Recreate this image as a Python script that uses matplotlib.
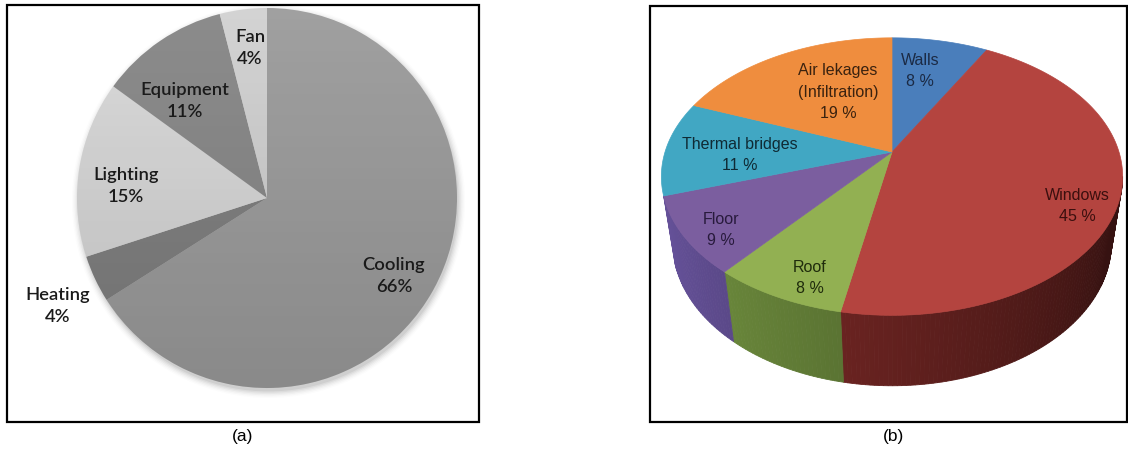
import numpy as np
import matplotlib
matplotlib.use("Agg")
import matplotlib.pyplot as plt
from matplotlib.patches import Polygon, Rectangle, Circle
from matplotlib.colors import to_rgb

# ---- (a) building energy end uses ----
uses = ["Cooling", "Heating", "Lighting", "Equipment", "Fan"]
use_share = [66, 4, 15, 11, 4]

# ---- (b) heat loss through the building envelope ----
parts = ["Walls", "Windows", "Roof", "Floor", "Thermal bridges", "Air lekages\n(Infiltration)"]
part_share = [8, 45, 8, 9, 11, 19]

W, H = 1128, 454
fig = plt.figure(figsize=(W / 100, H / 100), dpi=100)
fig.patch.set_facecolor("white")

# ---------------- panel (a): flat pie ----------------
pa_cx, pa_cy, pa_r = 267, 198, 190
pad = 1.08
ax_a = fig.add_axes([(pa_cx - pa_r * pad) / W, (H - pa_cy - pa_r * pad) / H,
                     2 * pa_r * pad / W, 2 * pa_r * pad / H])

grey = ["#a0a0a0", "#838383", "#dadada", "#8c8c8c", "#d3d3d3"]
wedges, _ = ax_a.pie(use_share, colors=grey, startangle=90, counterclock=False,
                     radius=1.0, wedgeprops=dict(linewidth=0), normalize=True)
for w in wedges:
    w.set_zorder(1)
# soft drop shadow under the disc
for i, a in enumerate(np.linspace(0.05, 0.01, 6)):
    ax_a.add_patch(Circle((0.008, -0.018), 1.0 + 0.007 * i, color="black", alpha=a, lw=0, zorder=0))
# gentle top-to-bottom shading over the disc
yy = np.linspace(1, 0, 200)[:, None] * np.ones((1, 10))
shade = np.zeros((200, 10, 4))
shade[..., 3] = 0.14 * (1 - yy)
img = ax_a.imshow(shade, extent=[-1, 1, -1, 1], origin="upper", zorder=2, aspect="auto")
img.set_clip_path(Circle((0, 0), 1.0, transform=ax_a.transData))
ax_a.set_xlim(-pad, pad)
ax_a.set_ylim(-pad, pad)
ax_a.set_aspect("auto")
ax_a.axis("off")

# ---------------- overlay in pixel units ----------------
ov = fig.add_axes([0, 0, 1, 1])
ov.set_xlim(0, W)
ov.set_ylim(H, 0)
ov.axis("off")
ov.patch.set_visible(False)

# frames
ov.add_patch(Rectangle((7, 5), 472, 417, fill=False, lw=1.6, ec="black"))
ov.add_patch(Rectangle((650, 6), 477, 416, fill=False, lw=1.6, ec="black"))

font_a = dict(family=["Lato", "DejaVu Sans"], fontsize=13.2, fontweight="semibold",
              color="#1a1a1a", ha="center", va="center", linespacing=1.5)
label_a_pos = {"Cooling": (394, 276), "Heating": (58, 306), "Lighting": (126, 186),
               "Equipment": (185, 101), "Fan": (250, 48)}
for name, v in zip(uses, use_share):
    x, y = label_a_pos[name]
    ov.text(x, y, f"{name}\n{v}%", **font_a)

cap = dict(family=["Liberation Sans", "DejaVu Sans"], fontsize=12.5, color="black",
           ha="center", va="center")
ov.text(243, 437, "(a)", **cap)
ov.text(893, 437, "(b)", **cap)

# ---------------- panel (b): 3-D pie in perspective ----------------
cx, cy, s = 892, 152, 227          # pie centre on screen and radius scale (px)
elev = np.radians(36.3)            # viewing elevation
dist = 4.55                        # camera distance in pie radii
thick = 0.38                       # pie thickness in pie radii
side_edge = 18.0                   # wall hidden within this angle of the left/right rim


def project(phi_deg, z):
    phi = np.radians(phi_deg)
    X, Y = np.cos(phi), np.sin(phi)
    yv = Y * np.sin(elev) + z * np.cos(elev)
    d = Y * np.cos(elev) - z * np.sin(elev)
    k = dist / (dist + d)
    return cx + s * X * k, cy - s * yv * k


top_cols = ["#4a7ebb", "#b4443f", "#92b052", "#7b5e9f", "#41a7c3", "#ef8d3e"]
side_cols = ["#3a6396", "#8e2f2c", "#7a9c44", "#6a55a0", "#34889f", "#c46f2c"]

bounds = 90 - 3.6 * np.concatenate([[0], np.cumsum(part_share)])
starts, ends = bounds[:-1], bounds[1:]

# part of the outer wall that faces the camera
edge = max(np.degrees(np.arcsin(np.cos(elev) / dist)), side_edge)
vis_lo, vis_hi = -180.0 + edge, -np.degrees(np.arcsin(np.cos(elev) / dist))

for i in range(len(part_share)):
    lo, hi = max(ends[i], vis_lo), min(starts[i], vis_hi)
    if hi <= lo:
        continue
    steps = np.linspace(lo, hi, int((hi - lo) / 1.0) + 2)
    base = np.array(to_rgb(side_cols[i]))
    for p0, p1 in zip(steps[:-1], steps[1:]):
        t = ((0.5 * (p0 + p1)) + 180) / 180
        g = max(1.0 - 0.75 * t ** 1.3, 0.38)
        pts = [project(p0, 0), project(p1, 0), project(p1, -thick), project(p0, -thick)]
        c = np.clip(base * g, 0, 1)
        ov.add_patch(Polygon(pts, closed=True, fc=c, ec=c, lw=0.6, zorder=3))

# top faces
for i in range(len(part_share)):
    arc = np.linspace(starts[i], ends[i], max(int(abs(starts[i] - ends[i])) + 2, 3))
    pts = [(cx, cy)] + [project(a, 0) for a in arc]
    ov.add_patch(Polygon(pts, closed=True, fc=top_cols[i], ec=top_cols[i], lw=0.5, zorder=4))

txt_cols = ["#1b2a44", "#3b0f0e", "#1f2b0c", "#281a3c", "#0f2a34", "#3a220f"]
label_b_pos = [(920, 71), (1077, 206), (810, 278), (721, 230), (740, 155), (838, 92)]
font_b = dict(family=["Liberation Sans Narrow", "Liberation Sans"], fontsize=11.5,
              ha="center", va="center", linespacing=1.55, zorder=6)
for name, v, (x, y), c in zip(parts, part_share, label_b_pos, txt_cols):
    ov.text(x, y, f"{name}\n{v} %", color=c, **font_b)

fig.savefig("out.png", dpi=100, facecolor="white")
